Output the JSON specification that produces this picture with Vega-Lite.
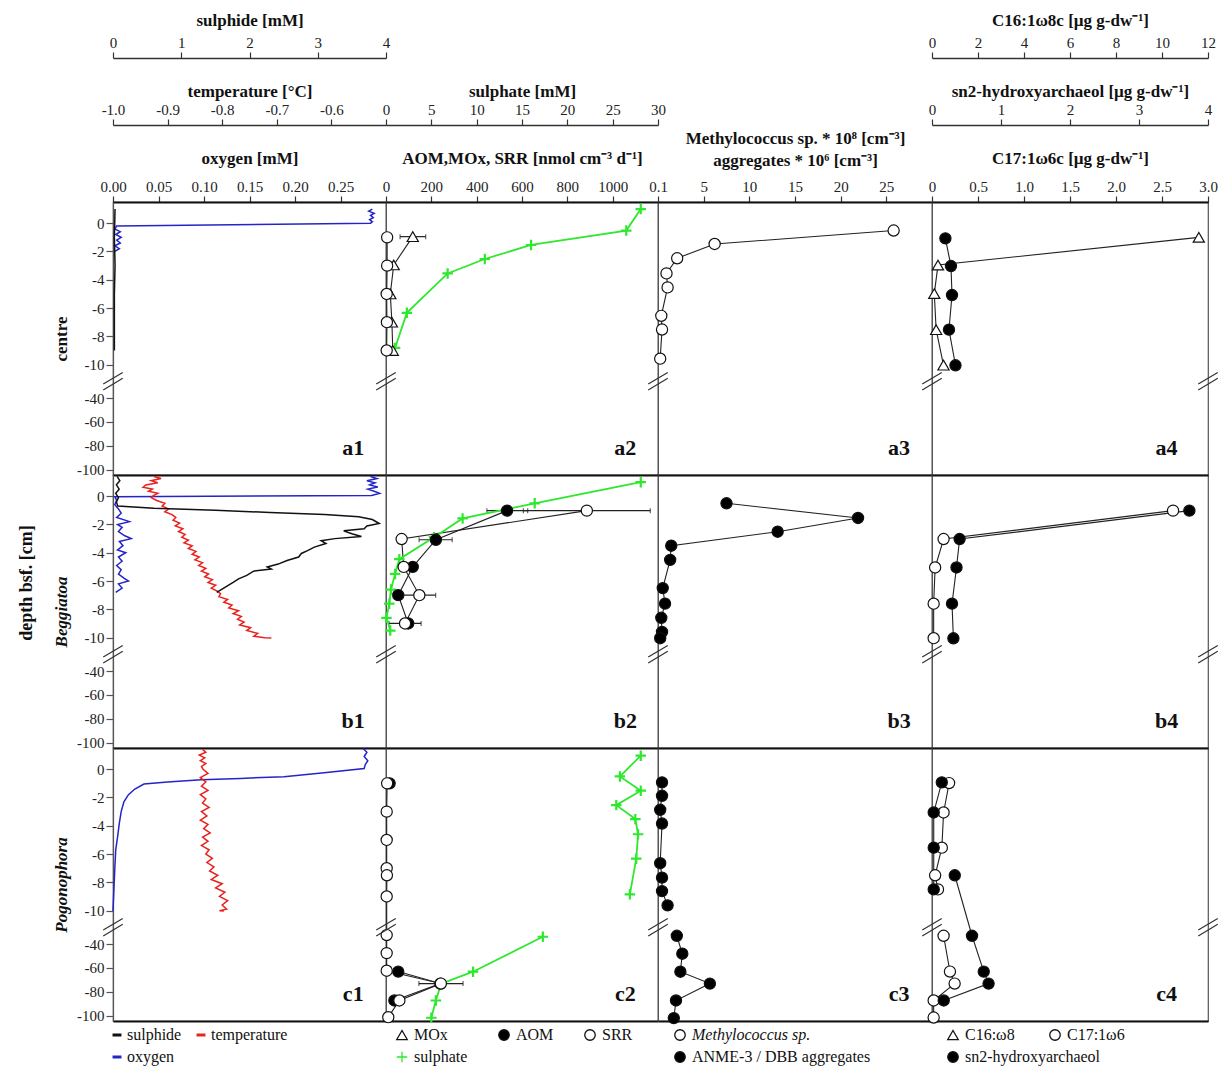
{
"$schema": "https://vega.github.io/schema/vega-lite/v6.json",
"background": "white",
"padding": {"left": 17, "top": 10, "right": 5, "bottom": 0},
"title": {"text": "depth bsf. [cm]", "orient": "left", "anchor": "middle", "font": "Liberation Serif", "fontSize": 18, "fontWeight": "bold", "color": "#111", "offset": 16, "dx": -45},
"columns": 4,
"spacing": 0,
"bounds": "flush",
"align": "each",
"resolve": {"scale": {"color": "independent", "shape": "independent", "fill": "independent", "stroke": "independent"}, "legend": {"color": "independent", "shape": "independent", "fill": "independent", "stroke": "independent"}},
"datasets": {
"a1": [
{"s":"oxygen","d":1.0,"v":0.285},{"s":"oxygen","d":0.85,"v":0.281},{"s":"oxygen","d":0.7,"v":0.287},{"s":"oxygen","d":0.55,"v":0.283},{"s":"oxygen","d":0.4,"v":0.286},{"s":"oxygen","d":0.25,"v":0.282},{"s":"oxygen","d":0.1,"v":0.285},{"s":"oxygen","d":0.0,"v":0.283},{"s":"oxygen","d":-0.2,"v":0.004},{"s":"oxygen","d":-0.4,"v":0.002},{"s":"oxygen","d":-0.6,"v":0.008},{"s":"oxygen","d":-0.8,"v":0.003},{"s":"oxygen","d":-1.0,"v":0.009},{"s":"oxygen","d":-1.2,"v":0.004},{"s":"oxygen","d":-1.4,"v":0.008},{"s":"oxygen","d":-1.6,"v":0.002},{"s":"oxygen","d":-1.8,"v":0.007},{"s":"oxygen","d":-2.0,"v":0.002},
{"s":"sulphide","d":1.0,"v":0.03},{"s":"sulphide","d":-1.0,"v":0.02},{"s":"sulphide","d":-3.0,"v":0.03},{"s":"sulphide","d":-5.0,"v":0.02},{"s":"sulphide","d":-7.0,"v":0.02},{"s":"sulphide","d":-9.0,"v":0.02}
],
"b1": [
{"s":"oxygen","d":1.4,"v":0.283},{"s":"oxygen","d":1.25,"v":0.29},{"s":"oxygen","d":1.1,"v":0.279},{"s":"oxygen","d":0.95,"v":0.288},{"s":"oxygen","d":0.8,"v":0.282},{"s":"oxygen","d":0.65,"v":0.291},{"s":"oxygen","d":0.5,"v":0.28},{"s":"oxygen","d":0.35,"v":0.287},{"s":"oxygen","d":0.2,"v":0.293},{"s":"oxygen","d":0.05,"v":0.284},{"s":"oxygen","d":-0.03,"v":0.002},{"s":"oxygen","d":-0.3,"v":0.004},{"s":"oxygen","d":-0.6,"v":0.002},{"s":"oxygen","d":-0.9,"v":0.006},{"s":"oxygen","d":-1.2,"v":0.009},{"s":"oxygen","d":-1.5,"v":0.004},{"s":"oxygen","d":-1.8,"v":0.018},{"s":"oxygen","d":-2.0,"v":0.005},{"s":"oxygen","d":-2.2,"v":0.01},{"s":"oxygen","d":-2.5,"v":0.006},{"s":"oxygen","d":-2.8,"v":0.013},{"s":"oxygen","d":-3.0,"v":0.02},{"s":"oxygen","d":-3.2,"v":0.007},{"s":"oxygen","d":-3.5,"v":0.011},{"s":"oxygen","d":-3.8,"v":0.005},{"s":"oxygen","d":-4.0,"v":0.014},{"s":"oxygen","d":-4.3,"v":0.006},{"s":"oxygen","d":-4.6,"v":0.01},{"s":"oxygen","d":-4.9,"v":0.004},{"s":"oxygen","d":-5.2,"v":0.009},{"s":"oxygen","d":-5.5,"v":0.006},{"s":"oxygen","d":-5.8,"v":0.012},{"s":"oxygen","d":-6.0,"v":0.017},{"s":"oxygen","d":-6.2,"v":0.006},{"s":"oxygen","d":-6.5,"v":0.01},{"s":"oxygen","d":-6.8,"v":0.003},
{"s":"sulphide","d":1.4,"v":0.06},{"s":"sulphide","d":1.1,"v":0.1},{"s":"sulphide","d":0.8,"v":0.05},{"s":"sulphide","d":0.5,"v":0.09},{"s":"sulphide","d":0.2,"v":0.04},{"s":"sulphide","d":-0.1,"v":0.08},{"s":"sulphide","d":-0.4,"v":0.05},{"s":"sulphide","d":-0.7,"v":0.07},{"s":"sulphide","d":-0.85,"v":0.6},{"s":"sulphide","d":-1.0,"v":1.5},{"s":"sulphide","d":-1.15,"v":2.3},{"s":"sulphide","d":-1.3,"v":3.1},{"s":"sulphide","d":-1.45,"v":3.6},{"s":"sulphide","d":-1.65,"v":3.8},{"s":"sulphide","d":-1.93,"v":3.9},{"s":"sulphide","d":-2.1,"v":3.72},{"s":"sulphide","d":-2.3,"v":3.68},{"s":"sulphide","d":-2.45,"v":3.38},{"s":"sulphide","d":-2.65,"v":3.5},{"s":"sulphide","d":-2.85,"v":3.64},{"s":"sulphide","d":-3.0,"v":3.25},{"s":"sulphide","d":-3.15,"v":3.05},{"s":"sulphide","d":-3.35,"v":3.12},{"s":"sulphide","d":-3.6,"v":2.95},{"s":"sulphide","d":-3.85,"v":2.85},{"s":"sulphide","d":-4.05,"v":2.76},{"s":"sulphide","d":-4.3,"v":2.72},{"s":"sulphide","d":-4.55,"v":2.55},{"s":"sulphide","d":-4.8,"v":2.42},{"s":"sulphide","d":-5.0,"v":2.26},{"s":"sulphide","d":-5.15,"v":2.32},{"s":"sulphide","d":-5.3,"v":2.06},{"s":"sulphide","d":-5.6,"v":1.96},{"s":"sulphide","d":-5.85,"v":1.84},{"s":"sulphide","d":-6.1,"v":1.76},{"s":"sulphide","d":-6.45,"v":1.64},{"s":"sulphide","d":-6.8,"v":1.52},
{"s":"temperature","d":1.4,"v":-0.925},{"s":"temperature","d":1.25,"v":-0.912},{"s":"temperature","d":1.1,"v":-0.93},{"s":"temperature","d":0.95,"v":-0.918},{"s":"temperature","d":0.8,"v":-0.94},{"s":"temperature","d":0.63,"v":-0.945},{"s":"temperature","d":0.5,"v":-0.928},{"s":"temperature","d":0.35,"v":-0.935},{"s":"temperature","d":0.2,"v":-0.918},{"s":"temperature","d":0.05,"v":-0.926},{"s":"temperature","d":-0.1,"v":-0.93},{"s":"temperature","d":-0.3,"v":-0.92},{"s":"temperature","d":-0.5,"v":-0.905},{"s":"temperature","d":-0.7,"v":-0.91},{"s":"temperature","d":-0.9,"v":-0.898},{"s":"temperature","d":-1.1,"v":-0.905},{"s":"temperature","d":-1.3,"v":-0.892},{"s":"temperature","d":-1.5,"v":-0.885},{"s":"temperature","d":-1.7,"v":-0.89},{"s":"temperature","d":-1.9,"v":-0.878},{"s":"temperature","d":-2.1,"v":-0.886},{"s":"temperature","d":-2.3,"v":-0.872},{"s":"temperature","d":-2.5,"v":-0.88},{"s":"temperature","d":-2.7,"v":-0.868},{"s":"temperature","d":-2.9,"v":-0.874},{"s":"temperature","d":-3.1,"v":-0.862},{"s":"temperature","d":-3.3,"v":-0.87},{"s":"temperature","d":-3.5,"v":-0.855},{"s":"temperature","d":-3.7,"v":-0.862},{"s":"temperature","d":-3.9,"v":-0.848},{"s":"temperature","d":-4.1,"v":-0.855},{"s":"temperature","d":-4.3,"v":-0.842},{"s":"temperature","d":-4.5,"v":-0.85},{"s":"temperature","d":-4.7,"v":-0.836},{"s":"temperature","d":-4.9,"v":-0.843},{"s":"temperature","d":-5.1,"v":-0.83},{"s":"temperature","d":-5.3,"v":-0.838},{"s":"temperature","d":-5.5,"v":-0.825},{"s":"temperature","d":-5.7,"v":-0.832},{"s":"temperature","d":-5.9,"v":-0.818},{"s":"temperature","d":-6.1,"v":-0.826},{"s":"temperature","d":-6.3,"v":-0.812},{"s":"temperature","d":-6.5,"v":-0.82},{"s":"temperature","d":-6.7,"v":-0.81},{"s":"temperature","d":-6.9,"v":-0.803},{"s":"temperature","d":-7.1,"v":-0.806},{"s":"temperature","d":-7.3,"v":-0.79},{"s":"temperature","d":-7.5,"v":-0.797},{"s":"temperature","d":-7.7,"v":-0.782},{"s":"temperature","d":-7.9,"v":-0.788},{"s":"temperature","d":-8.1,"v":-0.77},{"s":"temperature","d":-8.3,"v":-0.78},{"s":"temperature","d":-8.5,"v":-0.765},{"s":"temperature","d":-8.7,"v":-0.772},{"s":"temperature","d":-8.9,"v":-0.76},{"s":"temperature","d":-9.1,"v":-0.768},{"s":"temperature","d":-9.3,"v":-0.748},{"s":"temperature","d":-9.5,"v":-0.755},{"s":"temperature","d":-9.7,"v":-0.735},{"s":"temperature","d":-9.9,"v":-0.742},{"s":"temperature","d":-10.1,"v":-0.722},{"s":"temperature","d":-10.3,"v":-0.71}
],
"c1": [
{"s":"oxygen","d":1.46,"v":0.275},{"s":"oxygen","d":1.2,"v":0.279},{"s":"oxygen","d":0.9,"v":0.276},{"s":"oxygen","d":0.6,"v":0.28},{"s":"oxygen","d":0.3,"v":0.277},{"s":"oxygen","d":0.05,"v":0.276},{"s":"oxygen","d":-0.25,"v":0.232},{"s":"oxygen","d":-0.53,"v":0.188},{"s":"oxygen","d":-0.65,"v":0.14},{"s":"oxygen","d":-0.75,"v":0.097},{"s":"oxygen","d":-0.9,"v":0.06},{"s":"oxygen","d":-1.05,"v":0.034},{"s":"oxygen","d":-1.4,"v":0.024},{"s":"oxygen","d":-1.8,"v":0.017},{"s":"oxygen","d":-2.3,"v":0.012},{"s":"oxygen","d":-3.0,"v":0.009},{"s":"oxygen","d":-3.8,"v":0.007},{"s":"oxygen","d":-4.8,"v":0.005},{"s":"oxygen","d":-5.7,"v":0.003},{"s":"oxygen","d":-7.0,"v":0.002},{"s":"oxygen","d":-8.5,"v":0.001},{"s":"oxygen","d":-10.4,"v":0.0},
{"s":"temperature","d":1.4,"v":-0.836},{"s":"temperature","d":1.2,"v":-0.83},{"s":"temperature","d":1.0,"v":-0.842},{"s":"temperature","d":0.8,"v":-0.832},{"s":"temperature","d":0.6,"v":-0.84},{"s":"temperature","d":0.4,"v":-0.83},{"s":"temperature","d":0.2,"v":-0.838},{"s":"temperature","d":0.0,"v":-0.835},{"s":"temperature","d":-0.3,"v":-0.826},{"s":"temperature","d":-0.6,"v":-0.84},{"s":"temperature","d":-0.9,"v":-0.83},{"s":"temperature","d":-1.2,"v":-0.838},{"s":"temperature","d":-1.5,"v":-0.826},{"s":"temperature","d":-1.8,"v":-0.84},{"s":"temperature","d":-2.1,"v":-0.83},{"s":"temperature","d":-2.4,"v":-0.836},{"s":"temperature","d":-2.7,"v":-0.824},{"s":"temperature","d":-3.0,"v":-0.838},{"s":"temperature","d":-3.3,"v":-0.828},{"s":"temperature","d":-3.6,"v":-0.84},{"s":"temperature","d":-3.9,"v":-0.826},{"s":"temperature","d":-4.2,"v":-0.834},{"s":"temperature","d":-4.5,"v":-0.822},{"s":"temperature","d":-4.8,"v":-0.836},{"s":"temperature","d":-5.1,"v":-0.826},{"s":"temperature","d":-5.4,"v":-0.838},{"s":"temperature","d":-5.7,"v":-0.824},{"s":"temperature","d":-6.0,"v":-0.83},{"s":"temperature","d":-6.3,"v":-0.818},{"s":"temperature","d":-6.6,"v":-0.828},{"s":"temperature","d":-6.9,"v":-0.815},{"s":"temperature","d":-7.2,"v":-0.823},{"s":"temperature","d":-7.5,"v":-0.808},{"s":"temperature","d":-7.8,"v":-0.82},{"s":"temperature","d":-8.1,"v":-0.8},{"s":"temperature","d":-8.4,"v":-0.812},{"s":"temperature","d":-8.7,"v":-0.795},{"s":"temperature","d":-9.0,"v":-0.805},{"s":"temperature","d":-9.3,"v":-0.79},{"s":"temperature","d":-9.6,"v":-0.8},{"s":"temperature","d":-9.9,"v":-0.792},{"s":"temperature","d":-10.2,"v":-0.805},{"s":"temperature","d":-10.4,"v":-0.797}
],
"a2": [
{"s":"sulphate","d":1.0,"v":28.1},{"s":"sulphate","d":-0.52,"v":26.5},{"s":"sulphate","d":-1.54,"v":16.0},{"s":"sulphate","d":-2.53,"v":10.9},{"s":"sulphate","d":-3.55,"v":6.8},{"s":"sulphate","d":-6.34,"v":2.3},{"s":"sulphate","d":-8.82,"v":1.0},
{"s":"MOx","d":-0.95,"v":118,"lo":62,"hi":175},{"s":"MOx","d":-2.95,"v":34},{"s":"MOx","d":-5.0,"v":19},{"s":"MOx","d":-7.0,"v":26},{"s":"MOx","d":-9.0,"v":30},
{"s":"SRR","d":-1.0,"v":5},{"s":"SRR","d":-3.0,"v":5},{"s":"SRR","d":-5.0,"v":3},{"s":"SRR","d":-7.0,"v":4},{"s":"SRR","d":-9.0,"v":3}
],
"b2": [
{"s":"sulphate","d":0.99,"v":28.1},{"s":"sulphate","d":-0.5,"v":16.4},{"s":"sulphate","d":-1.57,"v":8.45},{"s":"sulphate","d":-2.9,"v":5.3},{"s":"sulphate","d":-4.45,"v":1.47},{"s":"sulphate","d":-5.5,"v":1.0},{"s":"sulphate","d":-6.6,"v":0.55},{"s":"sulphate","d":-7.6,"v":0.36},{"s":"sulphate","d":-8.6,"v":0.05},{"s":"sulphate","d":-9.5,"v":0.47},
{"s":"AOM","d":-1.02,"v":534,"lo":445,"hi":625},{"s":"AOM","d":-3.08,"v":220,"lo":146,"hi":292},{"s":"AOM","d":-5.0,"v":118},{"s":"AOM","d":-7.0,"v":54},{"s":"AOM","d":-9.0,"v":98},
{"s":"SRR","d":-1.02,"v":886,"lo":606,"hi":1166},{"s":"SRR","d":-3.03,"v":69},{"s":"SRR","d":-5.0,"v":78},{"s":"SRR","d":-7.0,"v":147,"lo":75,"hi":219},{"s":"SRR","d":-9.0,"v":84,"lo":13,"hi":155}
],
"c2": [
{"s":"sulphate","g":1,"d":0.96,"v":28.1},{"s":"sulphate","g":1,"d":-0.51,"v":25.8},{"s":"sulphate","g":1,"d":-1.52,"v":28.1},{"s":"sulphate","g":1,"d":-2.54,"v":25.4},{"s":"sulphate","g":1,"d":-3.53,"v":27.5},{"s":"sulphate","g":1,"d":-4.6,"v":27.8},{"s":"sulphate","g":1,"d":-6.33,"v":27.6},{"s":"sulphate","g":1,"d":-8.85,"v":26.9},
{"s":"sulphate","g":2,"d":-33.5,"v":17.3},{"s":"sulphate","g":2,"d":-63.1,"v":9.6},{"s":"sulphate","g":2,"d":-73,"v":6.1},{"s":"sulphate","g":2,"d":-87.1,"v":5.5},{"s":"sulphate","g":2,"d":-101.5,"v":5.0},
{"s":"AOM","g":1,"d":-1.0,"v":16},{"s":"AOM","g":2,"d":-63,"v":54},{"s":"AOM","g":2,"d":-73,"v":240},{"s":"AOM","g":2,"d":-87.1,"v":37},
{"s":"SRR","g":1,"d":-1.0,"v":5},{"s":"SRR","g":1,"d":-3.0,"v":3},{"s":"SRR","g":1,"d":-5.0,"v":3},{"s":"SRR","g":1,"d":-7.0,"v":3},{"s":"SRR","g":1,"d":-7.5,"v":4},{"s":"SRR","g":1,"d":-9.0,"v":3},{"s":"SRR","g":1,"d":-32,"v":3},{"s":"SRR","g":1,"d":-47.6,"v":3},{"s":"SRR","g":1,"d":-62.3,"v":3},{"s":"SRR","g":1,"d":-73,"v":242,"lo":145,"hi":340},{"s":"SRR","g":1,"d":-87.1,"v":59},{"s":"SRR","g":1,"d":-101,"v":10}
],
"a3": [
{"s":"Methylococcus sp.","d":-0.52,"v":25.8},{"s":"Methylococcus sp.","d":-1.47,"v":6.2},{"s":"Methylococcus sp.","d":-2.48,"v":2.1},{"s":"Methylococcus sp.","d":-3.55,"v":0.93},{"s":"Methylococcus sp.","d":-4.54,"v":1.05},{"s":"Methylococcus sp.","d":-6.55,"v":0.36},{"s":"Methylococcus sp.","d":-7.52,"v":0.44},{"s":"Methylococcus sp.","d":-9.58,"v":0.24}
],
"b3": [
{"s":"ANME-3 / DBB aggregates","d":-0.5,"v":7.5},{"s":"ANME-3 / DBB aggregates","d":-1.54,"v":21.9},{"s":"ANME-3 / DBB aggregates","d":-2.51,"v":13.1},{"s":"ANME-3 / DBB aggregates","d":-3.5,"v":1.45},{"s":"ANME-3 / DBB aggregates","d":-4.5,"v":1.33},{"s":"ANME-3 / DBB aggregates","d":-6.5,"v":0.52},{"s":"ANME-3 / DBB aggregates","d":-7.6,"v":0.77},{"s":"ANME-3 / DBB aggregates","d":-8.6,"v":0.36},{"s":"ANME-3 / DBB aggregates","d":-9.6,"v":0.44},{"s":"ANME-3 / DBB aggregates","d":-10.55,"v":0.24}
],
"c3": [
{"s":"ANME-3 / DBB aggregates","g":1,"d":-0.93,"v":0.44},{"s":"ANME-3 / DBB aggregates","g":1,"d":-1.88,"v":0.44},{"s":"ANME-3 / DBB aggregates","g":1,"d":-2.87,"v":0.24},{"s":"ANME-3 / DBB aggregates","g":1,"d":-3.84,"v":0.44},{"s":"ANME-3 / DBB aggregates","g":1,"d":-6.65,"v":0.24},{"s":"ANME-3 / DBB aggregates","g":1,"d":-7.67,"v":0.44},{"s":"ANME-3 / DBB aggregates","g":1,"d":-8.62,"v":0.44},{"s":"ANME-3 / DBB aggregates","g":1,"d":-9.63,"v":1.05},
{"s":"ANME-3 / DBB aggregates","g":2,"d":-32.6,"v":2.06},{"s":"ANME-3 / DBB aggregates","g":2,"d":-48.1,"v":2.66},{"s":"ANME-3 / DBB aggregates","g":2,"d":-63.1,"v":2.45},{"s":"ANME-3 / DBB aggregates","g":2,"d":-73,"v":5.68},{"s":"ANME-3 / DBB aggregates","g":2,"d":-87.1,"v":1.97},{"s":"ANME-3 / DBB aggregates","g":2,"d":-101.8,"v":1.73}
],
"a4": [
{"s":"C16:ω8","d":-1.0,"v":11.6},{"s":"C16:ω8","d":-2.96,"v":0.26},{"s":"C16:ω8","d":-4.98,"v":0.1},{"s":"C16:ω8","d":-7.53,"v":0.18},{"s":"C16:ω8","d":-10.5,"v":0.5},
{"s":"sn2-hydroxyarchaeol","d":-1.07,"v":0.194},{"s":"sn2-hydroxyarchaeol","d":-3.03,"v":0.275},{"s":"sn2-hydroxyarchaeol","d":-5.08,"v":0.29},{"s":"sn2-hydroxyarchaeol","d":-7.53,"v":0.246},{"s":"sn2-hydroxyarchaeol","d":-10.6,"v":0.34}
],
"b4": [
{"s":"C17:1ω6","d":-1.02,"v":2.62},{"s":"C17:1ω6","d":-3.03,"v":0.126},{"s":"C17:1ω6","d":-5.04,"v":0.034},{"s":"C17:1ω6","d":-7.6,"v":0.018},{"s":"C17:1ω6","d":-10.5,"v":0.018},
{"s":"sn2-hydroxyarchaeol","d":-1.02,"v":3.73},{"s":"sn2-hydroxyarchaeol","d":-3.03,"v":0.4},{"s":"sn2-hydroxyarchaeol","d":-5.04,"v":0.355},{"s":"sn2-hydroxyarchaeol","d":-7.6,"v":0.29},{"s":"sn2-hydroxyarchaeol","d":-10.6,"v":0.31}
],
"c4": [
{"s":"C17:1ω6","g":1,"d":-0.98,"v":0.186},{"s":"C17:1ω6","g":1,"d":-3.06,"v":0.126},{"s":"C17:1ω6","g":1,"d":-5.55,"v":0.107},{"s":"C17:1ω6","g":1,"d":-7.5,"v":0.034},{"s":"C17:1ω6","g":1,"d":-8.5,"v":0.065},
{"s":"C17:1ω6","g":2,"d":-32.6,"v":0.126},{"s":"C17:1ω6","g":2,"d":-63,"v":0.195},{"s":"C17:1ω6","g":2,"d":-73,"v":0.246},{"s":"C17:1ω6","g":2,"d":-87.1,"v":0.018},{"s":"C17:1ω6","g":2,"d":-101.3,"v":0.018},
{"s":"sn2-hydroxyarchaeol","g":1,"d":-0.93,"v":0.142},{"s":"sn2-hydroxyarchaeol","g":1,"d":-3.06,"v":0.025},{"s":"sn2-hydroxyarchaeol","g":1,"d":-5.55,"v":0.025},{"s":"sn2-hydroxyarchaeol","g":1,"d":-8.5,"v":0.025},
{"s":"sn2-hydroxyarchaeol","g":2,"d":-7.5,"v":0.33},{"s":"sn2-hydroxyarchaeol","g":2,"d":-32.6,"v":0.58},{"s":"sn2-hydroxyarchaeol","g":2,"d":-63,"v":0.75},{"s":"sn2-hydroxyarchaeol","g":2,"d":-73,"v":0.82},{"s":"sn2-hydroxyarchaeol","g":2,"d":-87.1,"v":0.17}
]
},
"concat": [
{"width": 273, "height": 273,
 "encoding": {"y": {"field": "d", "type": "quantitative", "scale": {"domain": [-104.2, -40, -10, 1.5], "range": [273, 196, 162.6, 0], "nice": false, "zero": false}, "axis": {"values": [0,-2,-4,-6,-8,-10,-40,-60,-80,-100], "labelExpr": "(datum.value < 0 ? '-' : '') + abs(datum.value)", "title": "centre", "titleFontStyle": "normal", "titlePadding": 6, "tickSize": 7, "domainColor": "#555", "domainWidth": 1.2, "tickColor": "#555"}}},
 "layer": [
  {"data": {"name": "a1"}, "transform": [{"filter": "datum.s == 'oxygen'"}], "mark": {"type": "line", "strokeWidth": 1.5}, "encoding": {"x": {"field": "v", "type": "quantitative", "scale": {"domain": [0, 0.3], "nice": false, "zero": false}, "axis": {"orient": "top", "offset": 0, "values": [0,0.05,0.1,0.15,0.2,0.25], "format": ".2f", "title": "oxygen [mM]", "titlePadding": 12, "domainColor": "#111", "domainWidth": 2}}, "color": {"field": "s", "type": "nominal", "scale": {"domain": ["sulphide","temperature","oxygen"], "range": ["#111111","#e8221e","#2424c8"]}, "legend": null}, "order": {"field": "d", "type": "quantitative"}}},
  {"data": {"name": "a1"}, "transform": [{"filter": "datum.s == 'temperature'"}], "mark": {"type": "line", "strokeWidth": 1.5}, "encoding": {"x": {"field": "v", "type": "quantitative", "scale": {"domain": [-1, -0.5], "nice": false, "zero": false}, "axis": {"orient": "top", "offset": 77, "values": [-1,-0.9,-0.8,-0.7,-0.6], "labelExpr": "(datum.value < 0 ? '-' : '') + format(abs(datum.value), '.1f')", "title": "temperature [°C]", "titlePadding": 2}}, "color": {"field": "s", "type": "nominal", "scale": {"domain": ["sulphide","temperature","oxygen"], "range": ["#111111","#e8221e","#2424c8"]}, "legend": null}, "order": {"field": "d", "type": "quantitative"}}},
  {"data": {"name": "a1"}, "transform": [{"filter": "datum.s == 'sulphide'"}], "mark": {"type": "line", "strokeWidth": 1.5}, "encoding": {"x": {"field": "v", "type": "quantitative", "scale": {"domain": [0, 4], "nice": false, "zero": false}, "axis": {"orient": "top", "offset": 144, "values": [0,1,2,3,4], "title": "sulphide [mM]", "titlePadding": 6}}, "color": {"field": "s", "type": "nominal", "scale": {"domain": ["sulphide","temperature","oxygen"], "range": ["#111111","#e8221e","#2424c8"]}, "legend": null}, "order": {"field": "d", "type": "quantitative"}}},
  {"data": {"values": [{"d": -24}]}, "mark": {"type": "point", "shape": "M-1,0.4L1,-0.8M-1,1.0L1,-0.2", "size": 380, "filled": false, "stroke": "#333", "strokeWidth": 1.2, "opacity": 1}, "encoding": {"x": {"datum": 0, "type": "quantitative", "scale": {"domain": [0, 1]}, "axis": null}}},
  {"data": {"values": [{"d": -82}]}, "mark": {"type": "text", "text": "a1", "fontSize": 22, "fontWeight": "bold", "font": "Liberation Serif", "color": "#111", "align": "center", "baseline": "middle"}, "encoding": {"x": {"datum": 0.88, "type": "quantitative", "scale": {"domain": [0, 1]}, "axis": null}}}
 ],
 "resolve": {"scale": {"x": "independent"}, "axis": {"x": "independent"}}
},
{"width": 272, "height": 273,
 "encoding": {"y": {"field": "d", "type": "quantitative", "scale": {"domain": [-104.2, -40, -10, 1.5], "range": [273, 196, 162.6, 0], "nice": false, "zero": false}, "axis": null}},
 "layer": [
  {"data": {"name": "a2"}, "transform": [{"filter": "datum.s != 'sulphate'"}], "mark": {"type": "line", "color": "#222", "strokeWidth": 1.1}, "encoding": {"x": {"field": "v", "type": "quantitative", "scale": {"domain": [0, 1200], "nice": false, "zero": false}, "axis": {"orient": "top", "offset": 0, "values": [0,200,400,600,800,1000], "format": "d", "title": "AOM,MOx, SRR [nmol cm⁻³ d⁻¹]", "titlePadding": 12, "domainColor": "#111", "domainWidth": 2}}, "detail": [{"field": "s", "type": "nominal"}, {"field": "g", "type": "nominal"}], "order": {"field": "d", "type": "quantitative"}}},
  {"data": {"name": "a2"}, "transform": [{"filter": "isValid(datum.lo)"}], "mark": {"type": "errorbar", "ticks": true, "color": "#222", "thickness": 1.2}, "encoding": {"x": {"field": "lo", "type": "quantitative", "scale": {"domain": [0, 1200], "nice": false, "zero": false}, "axis": null}, "x2": {"field": "hi"}}},
  {"data": {"name": "a2"}, "transform": [{"filter": "datum.s == 'sulphate'"}], "mark": {"type": "line", "color": "#2ee82e", "strokeWidth": 1.8}, "encoding": {"x": {"field": "v", "type": "quantitative", "scale": {"domain": [0, 30], "nice": false, "zero": false}, "axis": {"orient": "top", "offset": 77, "values": [0,5,10,15,20,25,30], "title": "sulphate [mM]", "titlePadding": 2}}, "detail": {"field": "g", "type": "nominal"}, "order": {"field": "d", "type": "quantitative"}}},
  {"data": {"name": "a2"}, "transform": [{"filter": "datum.s == 'sulphate'"}], "mark": {"type": "point", "filled": true, "size": 110, "strokeWidth": 2.2, "opacity": 1}, "encoding": {"x": {"field": "v", "type": "quantitative", "scale": {"domain": [0, 30], "nice": false, "zero": false}, "axis": null}, "shape": {"field": "s", "type": "nominal", "scale": {"domain": ["MOx","AOM","SRR","sulphate"], "range": ["triangle-up","circle","circle","M-1,0H1M0,-1V1"]}, "legend": null}, "fill": {"field": "s", "type": "nominal", "scale": {"domain": ["MOx","AOM","SRR","sulphate"], "range": ["white","black","white","#2ee82e"]}, "legend": null}, "stroke": {"field": "s", "type": "nominal", "scale": {"domain": ["MOx","AOM","SRR","sulphate"], "range": ["#111","#111","#111","#2ee82e"]}, "legend": null}}},
  {"data": {"name": "a2"}, "transform": [{"filter": "datum.s != 'sulphate'"}], "mark": {"type": "point", "filled": true, "size": 125, "strokeWidth": 1.2, "opacity": 1}, "encoding": {"x": {"field": "v", "type": "quantitative", "scale": {"domain": [0, 1200], "nice": false, "zero": false}, "axis": null}, "shape": {"field": "s", "type": "nominal", "scale": {"domain": ["MOx","AOM","SRR","sulphate"], "range": ["triangle-up","circle","circle","M-1,0H1M0,-1V1"]}, "legend": null}, "fill": {"field": "s", "type": "nominal", "scale": {"domain": ["MOx","AOM","SRR","sulphate"], "range": ["white","black","white","#2ee82e"]}, "legend": null}, "stroke": {"field": "s", "type": "nominal", "scale": {"domain": ["MOx","AOM","SRR","sulphate"], "range": ["#111","#111","#111","#2ee82e"]}, "legend": null}}},
  {"data": {"values": [{"d": -24}]}, "mark": {"type": "point", "shape": "M-1,0.4L1,-0.8M-1,1.0L1,-0.2", "size": 380, "filled": false, "stroke": "#333", "strokeWidth": 1.2, "opacity": 1}, "encoding": {"x": {"datum": 0, "type": "quantitative", "scale": {"domain": [0, 1]}, "axis": null}}},
  {"data": {"values": [{"d": -82}]}, "mark": {"type": "text", "text": "a2", "fontSize": 22, "fontWeight": "bold", "font": "Liberation Serif", "color": "#111", "align": "center", "baseline": "middle"}, "encoding": {"x": {"datum": 0.88, "type": "quantitative", "scale": {"domain": [0, 1]}, "axis": null}}}
 ],
 "resolve": {"scale": {"x": "independent"}, "axis": {"x": "independent"}}
},
{"width": 274, "height": 273,
 "encoding": {"y": {"field": "d", "type": "quantitative", "scale": {"domain": [-104.2, -40, -10, 1.5], "range": [273, 196, 162.6, 0], "nice": false, "zero": false}, "axis": null}},
 "layer": [
  {"data": {"name": "a3"}, "mark": {"type": "line", "color": "#222", "strokeWidth": 1.1}, "encoding": {"x": {"field": "v", "type": "quantitative", "scale": {"domain": [0, 30], "nice": false, "zero": false}, "axis": {"orient": "top", "offset": 0, "values": [0,5,10,15,20,25], "labelExpr": "datum.value == 0 ? '0.1' : datum.label", "title": ["Methylococcus sp. * 10⁸ [cm⁻³]", "aggregates * 10⁶ [cm⁻³]"], "titlePadding": 10, "titleLineHeight": 22, "domainColor": "#111", "domainWidth": 2}}, "detail": [{"field": "s", "type": "nominal"}, {"field": "g", "type": "nominal"}], "order": {"field": "d", "type": "quantitative"}}},
  {"data": {"name": "a3"}, "mark": {"type": "point", "filled": true, "size": 125, "strokeWidth": 1.2, "opacity": 1}, "encoding": {"x": {"field": "v", "type": "quantitative", "scale": {"domain": [0, 30], "nice": false, "zero": false}, "axis": null}, "shape": {"field": "s", "type": "nominal", "scale": {"domain": ["Methylococcus sp.","ANME-3 / DBB aggregates"], "range": ["circle","circle"]}, "legend": null}, "fill": {"field": "s", "type": "nominal", "scale": {"domain": ["Methylococcus sp.","ANME-3 / DBB aggregates"], "range": ["white","black"]}, "legend": null}, "stroke": {"field": "s", "type": "nominal", "scale": {"domain": ["Methylococcus sp.","ANME-3 / DBB aggregates"], "range": ["#111","#111"]}, "legend": null}}},
  {"data": {"values": [{"d": -24}]}, "mark": {"type": "point", "shape": "M-1,0.4L1,-0.8M-1,1.0L1,-0.2", "size": 380, "filled": false, "stroke": "#333", "strokeWidth": 1.2, "opacity": 1}, "encoding": {"x": {"datum": 0, "type": "quantitative", "scale": {"domain": [0, 1]}, "axis": null}}},
  {"data": {"values": [{"d": -82}]}, "mark": {"type": "text", "text": "a3", "fontSize": 22, "fontWeight": "bold", "font": "Liberation Serif", "color": "#111", "align": "center", "baseline": "middle"}, "encoding": {"x": {"datum": 0.88, "type": "quantitative", "scale": {"domain": [0, 1]}, "axis": null}}}
 ],
 "resolve": {"scale": {"x": "independent"}, "axis": {"x": "independent"}}
},
{"width": 276, "height": 273,
 "encoding": {"y": {"field": "d", "type": "quantitative", "scale": {"domain": [-104.2, -40, -10, 1.5], "range": [273, 196, 162.6, 0], "nice": false, "zero": false}, "axis": null}},
 "layer": [
  {"data": {"name": "a4"}, "transform": [{"filter": "datum.s == 'C17:1ω6'"}], "mark": {"type": "line", "color": "#222", "strokeWidth": 1.1}, "encoding": {"x": {"field": "v", "type": "quantitative", "scale": {"domain": [0, 3], "nice": false, "zero": false}, "axis": {"orient": "top", "offset": 0, "values": [0,0.5,1,1.5,2,2.5,3], "labelExpr": "datum.value == 0 ? '0' : format(datum.value, '.1f')", "title": "C17:1ω6c [µg g-dw⁻¹]", "titlePadding": 12, "domainColor": "#111", "domainWidth": 2}}, "detail": {"field": "g", "type": "nominal"}, "order": {"field": "d", "type": "quantitative"}}},
  {"data": {"name": "a4"}, "transform": [{"filter": "datum.s == 'sn2-hydroxyarchaeol'"}], "mark": {"type": "line", "color": "#222", "strokeWidth": 1.1}, "encoding": {"x": {"field": "v", "type": "quantitative", "scale": {"domain": [0, 4], "nice": false, "zero": false}, "axis": {"orient": "top", "offset": 77, "values": [0,1,2,3,4], "title": "sn2-hydroxyarchaeol [µg g-dw⁻¹]", "titlePadding": 2}}, "detail": {"field": "g", "type": "nominal"}, "order": {"field": "d", "type": "quantitative"}}},
  {"data": {"name": "a4"}, "transform": [{"filter": "datum.s == 'C16:ω8'"}], "mark": {"type": "line", "color": "#222", "strokeWidth": 1.1}, "encoding": {"x": {"field": "v", "type": "quantitative", "scale": {"domain": [0, 12], "nice": false, "zero": false}, "axis": {"orient": "top", "offset": 144, "values": [0,2,4,6,8,10,12], "title": "C16:1ω8c [µg g-dw⁻¹]", "titlePadding": 6}}, "detail": {"field": "g", "type": "nominal"}, "order": {"field": "d", "type": "quantitative"}}},
  {"data": {"name": "a4"}, "transform": [{"filter": "datum.s == 'sn2-hydroxyarchaeol'"}], "mark": {"type": "point", "filled": true, "size": 125, "strokeWidth": 1.2, "opacity": 1}, "encoding": {"x": {"field": "v", "type": "quantitative", "scale": {"domain": [0, 4], "nice": false, "zero": false}, "axis": null}, "shape": {"field": "s", "type": "nominal", "scale": {"domain": ["C16:ω8","C17:1ω6","sn2-hydroxyarchaeol"], "range": ["triangle-up","circle","circle"]}, "legend": null}, "fill": {"field": "s", "type": "nominal", "scale": {"domain": ["C16:ω8","C17:1ω6","sn2-hydroxyarchaeol"], "range": ["white","white","black"]}, "legend": null}, "stroke": {"field": "s", "type": "nominal", "scale": {"domain": ["C16:ω8","C17:1ω6","sn2-hydroxyarchaeol"], "range": ["#111","#111","#111"]}, "legend": null}}},
  {"data": {"name": "a4"}, "transform": [{"filter": "datum.s == 'C16:ω8'"}], "mark": {"type": "point", "filled": true, "size": 125, "strokeWidth": 1.2, "opacity": 1}, "encoding": {"x": {"field": "v", "type": "quantitative", "scale": {"domain": [0, 12], "nice": false, "zero": false}, "axis": null}, "shape": {"field": "s", "type": "nominal", "scale": {"domain": ["C16:ω8","C17:1ω6","sn2-hydroxyarchaeol"], "range": ["triangle-up","circle","circle"]}, "legend": null}, "fill": {"field": "s", "type": "nominal", "scale": {"domain": ["C16:ω8","C17:1ω6","sn2-hydroxyarchaeol"], "range": ["white","white","black"]}, "legend": null}, "stroke": {"field": "s", "type": "nominal", "scale": {"domain": ["C16:ω8","C17:1ω6","sn2-hydroxyarchaeol"], "range": ["#111","#111","#111"]}, "legend": null}}},
  {"data": {"values": [{"d": -24}]}, "mark": {"type": "point", "shape": "M-1,0.4L1,-0.8M-1,1.0L1,-0.2", "size": 380, "filled": false, "stroke": "#333", "strokeWidth": 1.2, "opacity": 1}, "encoding": {"x": {"datum": 0, "type": "quantitative", "scale": {"domain": [0, 1]}, "axis": null}}},
  {"data": {"values": [{"d": -24}]}, "mark": {"type": "point", "shape": "M-1,0.4L1,-0.8M-1,1.0L1,-0.2", "size": 380, "filled": false, "stroke": "#333", "strokeWidth": 1.2, "opacity": 1}, "encoding": {"x": {"datum": 1, "type": "quantitative", "scale": {"domain": [0, 1]}, "axis": null}}},
  {"data": {"values": [{"d": -82}]}, "mark": {"type": "text", "text": "a4", "fontSize": 22, "fontWeight": "bold", "font": "Liberation Serif", "color": "#111", "align": "center", "baseline": "middle"}, "encoding": {"x": {"datum": 0.85, "type": "quantitative", "scale": {"domain": [0, 1]}, "axis": null}}}
 ],
 "resolve": {"scale": {"x": "independent"}, "axis": {"x": "independent"}}
},
{"width": 273, "height": 273,
 "encoding": {"y": {"field": "d", "type": "quantitative", "scale": {"domain": [-104.2, -40, -10, 1.5], "range": [273, 196, 162.6, 0], "nice": false, "zero": false}, "axis": {"values": [0,-2,-4,-6,-8,-10,-40,-60,-80,-100], "labelExpr": "(datum.value < 0 ? '-' : '') + abs(datum.value)", "title": "Beggiatoa", "titleFontStyle": "italic", "titlePadding": 6, "tickSize": 7, "domainColor": "#555", "domainWidth": 1.2, "tickColor": "#555"}}},
 "layer": [
  {"data": {"name": "b1"}, "transform": [{"filter": "datum.s == 'oxygen'"}], "mark": {"type": "line", "strokeWidth": 1.5}, "encoding": {"x": {"field": "v", "type": "quantitative", "scale": {"domain": [0, 0.3], "nice": false, "zero": false}, "axis": {"orient": "top", "labels": false, "ticks": false, "title": null, "domainColor": "#111", "domainWidth": 2}}, "color": {"field": "s", "type": "nominal", "scale": {"domain": ["sulphide","temperature","oxygen"], "range": ["#111111","#e8221e","#2424c8"]}, "legend": null}, "order": {"field": "d", "type": "quantitative"}}},
  {"data": {"name": "b1"}, "transform": [{"filter": "datum.s == 'temperature'"}], "mark": {"type": "line", "strokeWidth": 1.5}, "encoding": {"x": {"field": "v", "type": "quantitative", "scale": {"domain": [-1, -0.5], "nice": false, "zero": false}, "axis": null}, "color": {"field": "s", "type": "nominal", "scale": {"domain": ["sulphide","temperature","oxygen"], "range": ["#111111","#e8221e","#2424c8"]}, "legend": null}, "order": {"field": "d", "type": "quantitative"}}},
  {"data": {"name": "b1"}, "transform": [{"filter": "datum.s == 'sulphide'"}], "mark": {"type": "line", "strokeWidth": 1.5}, "encoding": {"x": {"field": "v", "type": "quantitative", "scale": {"domain": [0, 4], "nice": false, "zero": false}, "axis": null}, "color": {"field": "s", "type": "nominal", "scale": {"domain": ["sulphide","temperature","oxygen"], "range": ["#111111","#e8221e","#2424c8"]}, "legend": null}, "order": {"field": "d", "type": "quantitative"}}},
  {"data": {"values": [{"d": -24}]}, "mark": {"type": "point", "shape": "M-1,0.4L1,-0.8M-1,1.0L1,-0.2", "size": 380, "filled": false, "stroke": "#333", "strokeWidth": 1.2, "opacity": 1}, "encoding": {"x": {"datum": 0, "type": "quantitative", "scale": {"domain": [0, 1]}, "axis": null}}},
  {"data": {"values": [{"d": -82}]}, "mark": {"type": "text", "text": "b1", "fontSize": 22, "fontWeight": "bold", "font": "Liberation Serif", "color": "#111", "align": "center", "baseline": "middle"}, "encoding": {"x": {"datum": 0.88, "type": "quantitative", "scale": {"domain": [0, 1]}, "axis": null}}}
 ],
 "resolve": {"scale": {"x": "independent"}, "axis": {"x": "independent"}}
},
{"width": 272, "height": 273,
 "encoding": {"y": {"field": "d", "type": "quantitative", "scale": {"domain": [-104.2, -40, -10, 1.5], "range": [273, 196, 162.6, 0], "nice": false, "zero": false}, "axis": null}},
 "layer": [
  {"data": {"name": "b2"}, "transform": [{"filter": "datum.s != 'sulphate'"}], "mark": {"type": "line", "color": "#222", "strokeWidth": 1.1}, "encoding": {"x": {"field": "v", "type": "quantitative", "scale": {"domain": [0, 1200], "nice": false, "zero": false}, "axis": {"orient": "top", "labels": false, "ticks": false, "title": null, "domainColor": "#111", "domainWidth": 2}}, "detail": [{"field": "s", "type": "nominal"}, {"field": "g", "type": "nominal"}], "order": {"field": "d", "type": "quantitative"}}},
  {"data": {"name": "b2"}, "transform": [{"filter": "isValid(datum.lo)"}], "mark": {"type": "errorbar", "ticks": true, "color": "#222", "thickness": 1.2}, "encoding": {"x": {"field": "lo", "type": "quantitative", "scale": {"domain": [0, 1200], "nice": false, "zero": false}, "axis": null}, "x2": {"field": "hi"}}},
  {"data": {"name": "b2"}, "transform": [{"filter": "datum.s == 'sulphate'"}], "mark": {"type": "line", "color": "#2ee82e", "strokeWidth": 1.8}, "encoding": {"x": {"field": "v", "type": "quantitative", "scale": {"domain": [0, 30], "nice": false, "zero": false}, "axis": null}, "detail": {"field": "g", "type": "nominal"}, "order": {"field": "d", "type": "quantitative"}}},
  {"data": {"name": "b2"}, "transform": [{"filter": "datum.s == 'sulphate'"}], "mark": {"type": "point", "filled": true, "size": 110, "strokeWidth": 2.2, "opacity": 1}, "encoding": {"x": {"field": "v", "type": "quantitative", "scale": {"domain": [0, 30], "nice": false, "zero": false}, "axis": null}, "shape": {"field": "s", "type": "nominal", "scale": {"domain": ["MOx","AOM","SRR","sulphate"], "range": ["triangle-up","circle","circle","M-1,0H1M0,-1V1"]}, "legend": null}, "fill": {"field": "s", "type": "nominal", "scale": {"domain": ["MOx","AOM","SRR","sulphate"], "range": ["white","black","white","#2ee82e"]}, "legend": null}, "stroke": {"field": "s", "type": "nominal", "scale": {"domain": ["MOx","AOM","SRR","sulphate"], "range": ["#111","#111","#111","#2ee82e"]}, "legend": null}}},
  {"data": {"name": "b2"}, "transform": [{"filter": "datum.s != 'sulphate'"}], "mark": {"type": "point", "filled": true, "size": 125, "strokeWidth": 1.2, "opacity": 1}, "encoding": {"x": {"field": "v", "type": "quantitative", "scale": {"domain": [0, 1200], "nice": false, "zero": false}, "axis": null}, "shape": {"field": "s", "type": "nominal", "scale": {"domain": ["MOx","AOM","SRR","sulphate"], "range": ["triangle-up","circle","circle","M-1,0H1M0,-1V1"]}, "legend": null}, "fill": {"field": "s", "type": "nominal", "scale": {"domain": ["MOx","AOM","SRR","sulphate"], "range": ["white","black","white","#2ee82e"]}, "legend": null}, "stroke": {"field": "s", "type": "nominal", "scale": {"domain": ["MOx","AOM","SRR","sulphate"], "range": ["#111","#111","#111","#2ee82e"]}, "legend": null}}},
  {"data": {"values": [{"d": -24}]}, "mark": {"type": "point", "shape": "M-1,0.4L1,-0.8M-1,1.0L1,-0.2", "size": 380, "filled": false, "stroke": "#333", "strokeWidth": 1.2, "opacity": 1}, "encoding": {"x": {"datum": 0, "type": "quantitative", "scale": {"domain": [0, 1]}, "axis": null}}},
  {"data": {"values": [{"d": -82}]}, "mark": {"type": "text", "text": "b2", "fontSize": 22, "fontWeight": "bold", "font": "Liberation Serif", "color": "#111", "align": "center", "baseline": "middle"}, "encoding": {"x": {"datum": 0.88, "type": "quantitative", "scale": {"domain": [0, 1]}, "axis": null}}}
 ],
 "resolve": {"scale": {"x": "independent"}, "axis": {"x": "independent"}}
},
{"width": 274, "height": 273,
 "encoding": {"y": {"field": "d", "type": "quantitative", "scale": {"domain": [-104.2, -40, -10, 1.5], "range": [273, 196, 162.6, 0], "nice": false, "zero": false}, "axis": null}},
 "layer": [
  {"data": {"name": "b3"}, "mark": {"type": "line", "color": "#222", "strokeWidth": 1.1}, "encoding": {"x": {"field": "v", "type": "quantitative", "scale": {"domain": [0, 30], "nice": false, "zero": false}, "axis": {"orient": "top", "labels": false, "ticks": false, "title": null, "domainColor": "#111", "domainWidth": 2}}, "detail": [{"field": "s", "type": "nominal"}, {"field": "g", "type": "nominal"}], "order": {"field": "d", "type": "quantitative"}}},
  {"data": {"name": "b3"}, "mark": {"type": "point", "filled": true, "size": 125, "strokeWidth": 1.2, "opacity": 1}, "encoding": {"x": {"field": "v", "type": "quantitative", "scale": {"domain": [0, 30], "nice": false, "zero": false}, "axis": null}, "shape": {"field": "s", "type": "nominal", "scale": {"domain": ["Methylococcus sp.","ANME-3 / DBB aggregates"], "range": ["circle","circle"]}, "legend": null}, "fill": {"field": "s", "type": "nominal", "scale": {"domain": ["Methylococcus sp.","ANME-3 / DBB aggregates"], "range": ["white","black"]}, "legend": null}, "stroke": {"field": "s", "type": "nominal", "scale": {"domain": ["Methylococcus sp.","ANME-3 / DBB aggregates"], "range": ["#111","#111"]}, "legend": null}}},
  {"data": {"values": [{"d": -24}]}, "mark": {"type": "point", "shape": "M-1,0.4L1,-0.8M-1,1.0L1,-0.2", "size": 380, "filled": false, "stroke": "#333", "strokeWidth": 1.2, "opacity": 1}, "encoding": {"x": {"datum": 0, "type": "quantitative", "scale": {"domain": [0, 1]}, "axis": null}}},
  {"data": {"values": [{"d": -82}]}, "mark": {"type": "text", "text": "b3", "fontSize": 22, "fontWeight": "bold", "font": "Liberation Serif", "color": "#111", "align": "center", "baseline": "middle"}, "encoding": {"x": {"datum": 0.88, "type": "quantitative", "scale": {"domain": [0, 1]}, "axis": null}}}
 ],
 "resolve": {"scale": {"x": "independent"}, "axis": {"x": "independent"}}
},
{"width": 276, "height": 273,
 "encoding": {"y": {"field": "d", "type": "quantitative", "scale": {"domain": [-104.2, -40, -10, 1.5], "range": [273, 196, 162.6, 0], "nice": false, "zero": false}, "axis": null}},
 "layer": [
  {"data": {"name": "b4"}, "transform": [{"filter": "datum.s == 'C17:1ω6'"}], "mark": {"type": "line", "color": "#222", "strokeWidth": 1.1}, "encoding": {"x": {"field": "v", "type": "quantitative", "scale": {"domain": [0, 3], "nice": false, "zero": false}, "axis": {"orient": "top", "labels": false, "ticks": false, "title": null, "domainColor": "#111", "domainWidth": 2}}, "detail": {"field": "g", "type": "nominal"}, "order": {"field": "d", "type": "quantitative"}}},
  {"data": {"name": "b4"}, "transform": [{"filter": "datum.s == 'sn2-hydroxyarchaeol'"}], "mark": {"type": "line", "color": "#222", "strokeWidth": 1.1}, "encoding": {"x": {"field": "v", "type": "quantitative", "scale": {"domain": [0, 4], "nice": false, "zero": false}, "axis": null}, "detail": {"field": "g", "type": "nominal"}, "order": {"field": "d", "type": "quantitative"}}},
  {"data": {"name": "b4"}, "transform": [{"filter": "datum.s == 'C17:1ω6'"}], "mark": {"type": "point", "filled": true, "size": 125, "strokeWidth": 1.2, "opacity": 1}, "encoding": {"x": {"field": "v", "type": "quantitative", "scale": {"domain": [0, 3], "nice": false, "zero": false}, "axis": null}, "shape": {"field": "s", "type": "nominal", "scale": {"domain": ["C16:ω8","C17:1ω6","sn2-hydroxyarchaeol"], "range": ["triangle-up","circle","circle"]}, "legend": null}, "fill": {"field": "s", "type": "nominal", "scale": {"domain": ["C16:ω8","C17:1ω6","sn2-hydroxyarchaeol"], "range": ["white","white","black"]}, "legend": null}, "stroke": {"field": "s", "type": "nominal", "scale": {"domain": ["C16:ω8","C17:1ω6","sn2-hydroxyarchaeol"], "range": ["#111","#111","#111"]}, "legend": null}}},
  {"data": {"name": "b4"}, "transform": [{"filter": "datum.s == 'sn2-hydroxyarchaeol'"}], "mark": {"type": "point", "filled": true, "size": 125, "strokeWidth": 1.2, "opacity": 1}, "encoding": {"x": {"field": "v", "type": "quantitative", "scale": {"domain": [0, 4], "nice": false, "zero": false}, "axis": null}, "shape": {"field": "s", "type": "nominal", "scale": {"domain": ["C16:ω8","C17:1ω6","sn2-hydroxyarchaeol"], "range": ["triangle-up","circle","circle"]}, "legend": null}, "fill": {"field": "s", "type": "nominal", "scale": {"domain": ["C16:ω8","C17:1ω6","sn2-hydroxyarchaeol"], "range": ["white","white","black"]}, "legend": null}, "stroke": {"field": "s", "type": "nominal", "scale": {"domain": ["C16:ω8","C17:1ω6","sn2-hydroxyarchaeol"], "range": ["#111","#111","#111"]}, "legend": null}}},
  {"data": {"values": [{"d": -24}]}, "mark": {"type": "point", "shape": "M-1,0.4L1,-0.8M-1,1.0L1,-0.2", "size": 380, "filled": false, "stroke": "#333", "strokeWidth": 1.2, "opacity": 1}, "encoding": {"x": {"datum": 0, "type": "quantitative", "scale": {"domain": [0, 1]}, "axis": null}}},
  {"data": {"values": [{"d": -24}]}, "mark": {"type": "point", "shape": "M-1,0.4L1,-0.8M-1,1.0L1,-0.2", "size": 380, "filled": false, "stroke": "#333", "strokeWidth": 1.2, "opacity": 1}, "encoding": {"x": {"datum": 1, "type": "quantitative", "scale": {"domain": [0, 1]}, "axis": null}}},
  {"data": {"values": [{"d": -82}]}, "mark": {"type": "text", "text": "b4", "fontSize": 22, "fontWeight": "bold", "font": "Liberation Serif", "color": "#111", "align": "center", "baseline": "middle"}, "encoding": {"x": {"datum": 0.85, "type": "quantitative", "scale": {"domain": [0, 1]}, "axis": null}}}
 ],
 "resolve": {"scale": {"x": "independent"}, "axis": {"x": "independent"}}
},
{"width": 273, "height": 273,
 "encoding": {"y": {"field": "d", "type": "quantitative", "scale": {"domain": [-104.2, -40, -10, 1.5], "range": [273, 196, 162.6, 0], "nice": false, "zero": false}, "axis": {"values": [0,-2,-4,-6,-8,-10,-40,-60,-80,-100], "labelExpr": "(datum.value < 0 ? '-' : '') + abs(datum.value)", "title": "Pogonophora", "titleFontStyle": "italic", "titlePadding": 6, "tickSize": 7, "domainColor": "#555", "domainWidth": 1.2, "tickColor": "#555"}}},
 "layer": [
  {"data": {"name": "c1"}, "transform": [{"filter": "datum.s == 'oxygen'"}], "mark": {"type": "line", "strokeWidth": 1.5}, "encoding": {"x": {"field": "v", "type": "quantitative", "scale": {"domain": [0, 0.3], "nice": false, "zero": false}, "axis": {"orient": "top", "labels": false, "ticks": false, "title": null, "domainColor": "#111", "domainWidth": 2}}, "color": {"field": "s", "type": "nominal", "scale": {"domain": ["sulphide","temperature","oxygen"], "range": ["#111111","#e8221e","#2424c8"]}, "legend": {"orient": "none", "legendX": -4, "legendY": 279, "direction": "horizontal", "columns": 2, "title": null, "symbolType": "stroke", "symbolSize": 80, "symbolStrokeWidth": 3, "labelFontSize": 16, "labelOffset": 2, "columnPadding": 8, "rowPadding": 6}}, "order": {"field": "d", "type": "quantitative"}}},
  {"data": {"name": "c1"}, "transform": [{"filter": "datum.s == 'temperature'"}], "mark": {"type": "line", "strokeWidth": 1.5}, "encoding": {"x": {"field": "v", "type": "quantitative", "scale": {"domain": [-1, -0.5], "nice": false, "zero": false}, "axis": {"orient": "bottom", "labels": false, "ticks": false, "title": null, "domainColor": "#111", "domainWidth": 2}}, "color": {"field": "s", "type": "nominal", "scale": {"domain": ["sulphide","temperature","oxygen"], "range": ["#111111","#e8221e","#2424c8"]}, "legend": {"orient": "none", "legendX": -4, "legendY": 279, "direction": "horizontal", "columns": 2, "title": null, "symbolType": "stroke", "symbolSize": 80, "symbolStrokeWidth": 3, "labelFontSize": 16, "labelOffset": 2, "columnPadding": 8, "rowPadding": 6}}, "order": {"field": "d", "type": "quantitative"}}},
  {"data": {"values": [{"d": -24}]}, "mark": {"type": "point", "shape": "M-1,0.4L1,-0.8M-1,1.0L1,-0.2", "size": 380, "filled": false, "stroke": "#333", "strokeWidth": 1.2, "opacity": 1}, "encoding": {"x": {"datum": 0, "type": "quantitative", "scale": {"domain": [0, 1]}, "axis": null}}},
  {"data": {"values": [{"d": -82}]}, "mark": {"type": "text", "text": "c1", "fontSize": 22, "fontWeight": "bold", "font": "Liberation Serif", "color": "#111", "align": "center", "baseline": "middle"}, "encoding": {"x": {"datum": 0.88, "type": "quantitative", "scale": {"domain": [0, 1]}, "axis": null}}}
 ],
 "resolve": {"scale": {"x": "independent"}, "axis": {"x": "independent"}}
},
{"width": 272, "height": 273,
 "encoding": {"y": {"field": "d", "type": "quantitative", "scale": {"domain": [-104.2, -40, -10, 1.5], "range": [273, 196, 162.6, 0], "nice": false, "zero": false}, "axis": null}},
 "layer": [
  {"data": {"name": "c2"}, "transform": [{"filter": "datum.s != 'sulphate'"}], "mark": {"type": "line", "color": "#222", "strokeWidth": 1.1}, "encoding": {"x": {"field": "v", "type": "quantitative", "scale": {"domain": [0, 1200], "nice": false, "zero": false}, "axis": {"orient": "top", "labels": false, "ticks": false, "title": null, "domainColor": "#111", "domainWidth": 2}}, "detail": [{"field": "s", "type": "nominal"}, {"field": "g", "type": "nominal"}], "order": {"field": "d", "type": "quantitative"}}},
  {"data": {"name": "c2"}, "transform": [{"filter": "isValid(datum.lo)"}], "mark": {"type": "errorbar", "ticks": true, "color": "#222", "thickness": 1.2}, "encoding": {"x": {"field": "lo", "type": "quantitative", "scale": {"domain": [0, 1200], "nice": false, "zero": false}, "axis": {"orient": "bottom", "labels": false, "ticks": false, "title": null, "domainColor": "#111", "domainWidth": 2}}, "x2": {"field": "hi"}}},
  {"data": {"name": "c2"}, "transform": [{"filter": "datum.s == 'sulphate'"}], "mark": {"type": "line", "color": "#2ee82e", "strokeWidth": 1.8}, "encoding": {"x": {"field": "v", "type": "quantitative", "scale": {"domain": [0, 30], "nice": false, "zero": false}, "axis": null}, "detail": {"field": "g", "type": "nominal"}, "order": {"field": "d", "type": "quantitative"}}},
  {"data": {"name": "c2"}, "transform": [{"filter": "datum.s == 'sulphate'"}], "mark": {"type": "point", "filled": true, "size": 110, "strokeWidth": 2.2, "opacity": 1}, "encoding": {"x": {"field": "v", "type": "quantitative", "scale": {"domain": [0, 30], "nice": false, "zero": false}, "axis": null}, "shape": {"field": "s", "type": "nominal", "scale": {"domain": ["MOx","AOM","SRR","sulphate"], "range": ["triangle-up","circle","circle","M-1,0H1M0,-1V1"]}, "legend": {"orient": "none", "legendX": 8, "legendY": 279, "direction": "horizontal", "columns": 3, "title": null, "symbolSize": 110, "symbolStrokeWidth": 1.3, "labelFontSize": 16, "labelOffset": 4, "columnPadding": 28, "rowPadding": 6}}, "fill": {"field": "s", "type": "nominal", "scale": {"domain": ["MOx","AOM","SRR","sulphate"], "range": ["white","black","white","#2ee82e"]}, "legend": {"orient": "none", "legendX": 8, "legendY": 279, "direction": "horizontal", "columns": 3, "title": null, "symbolSize": 110, "symbolStrokeWidth": 1.3, "labelFontSize": 16, "labelOffset": 4, "columnPadding": 28, "rowPadding": 6}}, "stroke": {"field": "s", "type": "nominal", "scale": {"domain": ["MOx","AOM","SRR","sulphate"], "range": ["#111","#111","#111","#2ee82e"]}, "legend": {"orient": "none", "legendX": 8, "legendY": 279, "direction": "horizontal", "columns": 3, "title": null, "symbolSize": 110, "symbolStrokeWidth": 1.3, "labelFontSize": 16, "labelOffset": 4, "columnPadding": 28, "rowPadding": 6}}}},
  {"data": {"name": "c2"}, "transform": [{"filter": "datum.s != 'sulphate'"}], "mark": {"type": "point", "filled": true, "size": 125, "strokeWidth": 1.2, "opacity": 1}, "encoding": {"x": {"field": "v", "type": "quantitative", "scale": {"domain": [0, 1200], "nice": false, "zero": false}, "axis": null}, "shape": {"field": "s", "type": "nominal", "scale": {"domain": ["MOx","AOM","SRR","sulphate"], "range": ["triangle-up","circle","circle","M-1,0H1M0,-1V1"]}, "legend": {"orient": "none", "legendX": 8, "legendY": 279, "direction": "horizontal", "columns": 3, "title": null, "symbolSize": 110, "symbolStrokeWidth": 1.3, "labelFontSize": 16, "labelOffset": 4, "columnPadding": 28, "rowPadding": 6}}, "fill": {"field": "s", "type": "nominal", "scale": {"domain": ["MOx","AOM","SRR","sulphate"], "range": ["white","black","white","#2ee82e"]}, "legend": {"orient": "none", "legendX": 8, "legendY": 279, "direction": "horizontal", "columns": 3, "title": null, "symbolSize": 110, "symbolStrokeWidth": 1.3, "labelFontSize": 16, "labelOffset": 4, "columnPadding": 28, "rowPadding": 6}}, "stroke": {"field": "s", "type": "nominal", "scale": {"domain": ["MOx","AOM","SRR","sulphate"], "range": ["#111","#111","#111","#2ee82e"]}, "legend": {"orient": "none", "legendX": 8, "legendY": 279, "direction": "horizontal", "columns": 3, "title": null, "symbolSize": 110, "symbolStrokeWidth": 1.3, "labelFontSize": 16, "labelOffset": 4, "columnPadding": 28, "rowPadding": 6}}}},
  {"data": {"values": [{"d": -24}]}, "mark": {"type": "point", "shape": "M-1,0.4L1,-0.8M-1,1.0L1,-0.2", "size": 380, "filled": false, "stroke": "#333", "strokeWidth": 1.2, "opacity": 1}, "encoding": {"x": {"datum": 0, "type": "quantitative", "scale": {"domain": [0, 1]}, "axis": null}}},
  {"data": {"values": [{"d": -82}]}, "mark": {"type": "text", "text": "c2", "fontSize": 22, "fontWeight": "bold", "font": "Liberation Serif", "color": "#111", "align": "center", "baseline": "middle"}, "encoding": {"x": {"datum": 0.88, "type": "quantitative", "scale": {"domain": [0, 1]}, "axis": null}}}
 ],
 "resolve": {"scale": {"x": "independent"}, "axis": {"x": "independent"}}
},
{"width": 274, "height": 273,
 "encoding": {"y": {"field": "d", "type": "quantitative", "scale": {"domain": [-104.2, -40, -10, 1.5], "range": [273, 196, 162.6, 0], "nice": false, "zero": false}, "axis": null}},
 "layer": [
  {"data": {"name": "c3"}, "mark": {"type": "line", "color": "#222", "strokeWidth": 1.1}, "encoding": {"x": {"field": "v", "type": "quantitative", "scale": {"domain": [0, 30], "nice": false, "zero": false}, "axis": {"orient": "top", "labels": false, "ticks": false, "title": null, "domainColor": "#111", "domainWidth": 2}}, "detail": [{"field": "s", "type": "nominal"}, {"field": "g", "type": "nominal"}], "order": {"field": "d", "type": "quantitative"}}},
  {"data": {"name": "c3"}, "transform": [{"filter": "datum.s == 'Methylococcus sp.'"}], "mark": {"type": "point", "filled": true, "size": 125, "strokeWidth": 1.2, "opacity": 1}, "encoding": {"x": {"field": "v", "type": "quantitative", "scale": {"domain": [0, 30], "nice": false, "zero": false}, "axis": null}, "shape": {"field": "s", "type": "nominal", "scale": {"domain": ["Methylococcus sp."], "range": ["circle"]}, "legend": {"orient": "none", "legendX": 14, "legendY": 279, "direction": "horizontal", "title": null, "symbolSize": 110, "symbolStrokeWidth": 1.3, "labelFontSize": 16, "labelFontStyle": "italic", "labelOffset": 4, "labelLimit": 300}}, "fill": {"field": "s", "type": "nominal", "scale": {"domain": ["Methylococcus sp."], "range": ["white"]}, "legend": {"orient": "none", "legendX": 14, "legendY": 279, "direction": "horizontal", "title": null, "symbolSize": 110, "symbolStrokeWidth": 1.3, "labelFontSize": 16, "labelFontStyle": "italic", "labelOffset": 4, "labelLimit": 300}}, "stroke": {"field": "s", "type": "nominal", "scale": {"domain": ["Methylococcus sp."], "range": ["#111"]}, "legend": {"orient": "none", "legendX": 14, "legendY": 279, "direction": "horizontal", "title": null, "symbolSize": 110, "symbolStrokeWidth": 1.3, "labelFontSize": 16, "labelFontStyle": "italic", "labelOffset": 4, "labelLimit": 300}}}},
  {"data": {"name": "c3"}, "transform": [{"filter": "datum.s == 'ANME-3 / DBB aggregates'"}], "mark": {"type": "point", "filled": true, "size": 125, "strokeWidth": 1.2, "opacity": 1}, "encoding": {"x": {"field": "v", "type": "quantitative", "scale": {"domain": [0, 30], "nice": false, "zero": false}, "axis": {"orient": "bottom", "labels": false, "ticks": false, "title": null, "domainColor": "#111", "domainWidth": 2}}, "shape": {"field": "s", "type": "nominal", "scale": {"domain": ["ANME-3 / DBB aggregates"], "range": ["circle"]}, "legend": {"orient": "none", "legendX": 14, "legendY": 301, "direction": "horizontal", "title": null, "symbolSize": 110, "symbolStrokeWidth": 1.3, "labelFontSize": 16, "labelOffset": 4, "labelLimit": 300}}, "fill": {"field": "s", "type": "nominal", "scale": {"domain": ["ANME-3 / DBB aggregates"], "range": ["black"]}, "legend": {"orient": "none", "legendX": 14, "legendY": 301, "direction": "horizontal", "title": null, "symbolSize": 110, "symbolStrokeWidth": 1.3, "labelFontSize": 16, "labelOffset": 4, "labelLimit": 300}}, "stroke": {"field": "s", "type": "nominal", "scale": {"domain": ["ANME-3 / DBB aggregates"], "range": ["#111"]}, "legend": {"orient": "none", "legendX": 14, "legendY": 301, "direction": "horizontal", "title": null, "symbolSize": 110, "symbolStrokeWidth": 1.3, "labelFontSize": 16, "labelOffset": 4, "labelLimit": 300}}}},
  {"data": {"values": [{"d": -24}]}, "mark": {"type": "point", "shape": "M-1,0.4L1,-0.8M-1,1.0L1,-0.2", "size": 380, "filled": false, "stroke": "#333", "strokeWidth": 1.2, "opacity": 1}, "encoding": {"x": {"datum": 0, "type": "quantitative", "scale": {"domain": [0, 1]}, "axis": null}}},
  {"data": {"values": [{"d": -82}]}, "mark": {"type": "text", "text": "c3", "fontSize": 22, "fontWeight": "bold", "font": "Liberation Serif", "color": "#111", "align": "center", "baseline": "middle"}, "encoding": {"x": {"datum": 0.88, "type": "quantitative", "scale": {"domain": [0, 1]}, "axis": null}}}
 ],
 "resolve": {"scale": {"x": "independent", "shape": "independent", "fill": "independent", "stroke": "independent"}, "axis": {"x": "independent"}, "legend": {"shape": "independent", "fill": "independent", "stroke": "independent"}}
},
{"width": 276, "height": 273,
 "encoding": {"y": {"field": "d", "type": "quantitative", "scale": {"domain": [-104.2, -40, -10, 1.5], "range": [273, 196, 162.6, 0], "nice": false, "zero": false}, "axis": null}},
 "layer": [
  {"data": {"name": "c4"}, "transform": [{"filter": "datum.s == 'C17:1ω6'"}], "mark": {"type": "line", "color": "#222", "strokeWidth": 1.1}, "encoding": {"x": {"field": "v", "type": "quantitative", "scale": {"domain": [0, 3], "nice": false, "zero": false}, "axis": {"orient": "top", "labels": false, "ticks": false, "title": null, "domainColor": "#111", "domainWidth": 2}}, "detail": {"field": "g", "type": "nominal"}, "order": {"field": "d", "type": "quantitative"}}},
  {"data": {"name": "c4"}, "transform": [{"filter": "datum.s == 'sn2-hydroxyarchaeol'"}], "mark": {"type": "line", "color": "#222", "strokeWidth": 1.1}, "encoding": {"x": {"field": "v", "type": "quantitative", "scale": {"domain": [0, 4], "nice": false, "zero": false}, "axis": {"orient": "bottom", "labels": false, "ticks": false, "title": null, "domainColor": "#111", "domainWidth": 2}}, "detail": {"field": "g", "type": "nominal"}, "order": {"field": "d", "type": "quantitative"}}},
  {"data": {"name": "c4"}, "transform": [{"filter": "datum.s == 'C17:1ω6'"}], "mark": {"type": "point", "filled": true, "size": 125, "strokeWidth": 1.2, "opacity": 1}, "encoding": {"x": {"field": "v", "type": "quantitative", "scale": {"domain": [0, 3], "nice": false, "zero": false}, "axis": null}, "shape": {"field": "s", "type": "nominal", "scale": {"domain": ["C16:ω8","C17:1ω6"], "range": ["triangle-up","circle"]}, "legend": {"orient": "none", "legendX": 13, "legendY": 279, "direction": "horizontal", "title": null, "symbolSize": 110, "symbolStrokeWidth": 1.3, "labelFontSize": 16, "labelOffset": 4, "columnPadding": 32}}, "fill": {"field": "s", "type": "nominal", "scale": {"domain": ["C16:ω8","C17:1ω6"], "range": ["white","white"]}, "legend": {"orient": "none", "legendX": 13, "legendY": 279, "direction": "horizontal", "title": null, "symbolSize": 110, "symbolStrokeWidth": 1.3, "labelFontSize": 16, "labelOffset": 4, "columnPadding": 32}}, "stroke": {"field": "s", "type": "nominal", "scale": {"domain": ["C16:ω8","C17:1ω6"], "range": ["#111","#111"]}, "legend": {"orient": "none", "legendX": 13, "legendY": 279, "direction": "horizontal", "title": null, "symbolSize": 110, "symbolStrokeWidth": 1.3, "labelFontSize": 16, "labelOffset": 4, "columnPadding": 32}}}},
  {"data": {"name": "c4"}, "transform": [{"filter": "datum.s == 'sn2-hydroxyarchaeol'"}], "mark": {"type": "point", "filled": true, "size": 125, "strokeWidth": 1.2, "opacity": 1}, "encoding": {"x": {"field": "v", "type": "quantitative", "scale": {"domain": [0, 4], "nice": false, "zero": false}, "axis": null}, "shape": {"field": "s", "type": "nominal", "scale": {"domain": ["sn2-hydroxyarchaeol"], "range": ["circle"]}, "legend": {"orient": "none", "legendX": 13, "legendY": 301, "direction": "horizontal", "title": null, "symbolSize": 110, "symbolStrokeWidth": 1.3, "labelFontSize": 16, "labelOffset": 4}}, "fill": {"field": "s", "type": "nominal", "scale": {"domain": ["sn2-hydroxyarchaeol"], "range": ["black"]}, "legend": {"orient": "none", "legendX": 13, "legendY": 301, "direction": "horizontal", "title": null, "symbolSize": 110, "symbolStrokeWidth": 1.3, "labelFontSize": 16, "labelOffset": 4}}, "stroke": {"field": "s", "type": "nominal", "scale": {"domain": ["sn2-hydroxyarchaeol"], "range": ["#111"]}, "legend": {"orient": "none", "legendX": 13, "legendY": 301, "direction": "horizontal", "title": null, "symbolSize": 110, "symbolStrokeWidth": 1.3, "labelFontSize": 16, "labelOffset": 4}}}},
  {"data": {"values": [{"d": -24}]}, "mark": {"type": "point", "shape": "M-1,0.4L1,-0.8M-1,1.0L1,-0.2", "size": 380, "filled": false, "stroke": "#333", "strokeWidth": 1.2, "opacity": 1}, "encoding": {"x": {"datum": 0, "type": "quantitative", "scale": {"domain": [0, 1]}, "axis": null}}},
  {"data": {"values": [{"d": -24}]}, "mark": {"type": "point", "shape": "M-1,0.4L1,-0.8M-1,1.0L1,-0.2", "size": 380, "filled": false, "stroke": "#333", "strokeWidth": 1.2, "opacity": 1}, "encoding": {"x": {"datum": 1, "type": "quantitative", "scale": {"domain": [0, 1]}, "axis": null}}},
  {"data": {"values": [{"d": -82}]}, "mark": {"type": "text", "text": "c4", "fontSize": 22, "fontWeight": "bold", "font": "Liberation Serif", "color": "#111", "align": "center", "baseline": "middle"}, "encoding": {"x": {"datum": 0.85, "type": "quantitative", "scale": {"domain": [0, 1]}, "axis": null}}}
 ],
 "resolve": {"scale": {"x": "independent", "shape": "independent", "fill": "independent", "stroke": "independent"}, "axis": {"x": "independent"}, "legend": {"shape": "independent", "fill": "independent", "stroke": "independent"}}
}
],
"config": {
 "font": "Liberation Serif",
 "view": {"stroke": "#555", "strokeWidth": 1.2},
 "axis": {"grid": false, "labelFont": "Liberation Serif", "labelFontSize": 15, "labelColor": "#222", "titleFont": "Liberation Serif", "titleFontSize": 17, "titleFontWeight": "bold", "titleColor": "#111", "domainColor": "#333", "domainWidth": 1.5, "tickColor": "#333", "tickSize": 6, "tickWidth": 1.2, "labelFlush": false, "labelOverlap": false, "labelPadding": 2, "labelAngle": 0},
 "legend": {"labelFont": "Liberation Serif", "labelFontSize": 16, "labelColor": "#111", "padding": 0},
 "text": {"font": "Liberation Serif"}
}
}
